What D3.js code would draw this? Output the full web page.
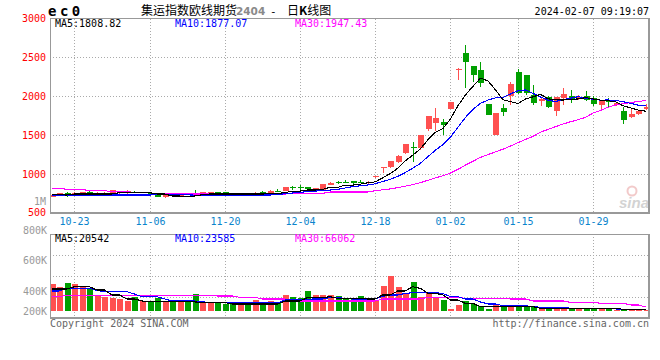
<!DOCTYPE html>
<html><head><meta charset="utf-8">
<script src="https://cdn.jsdelivr.net/npm/d3@7"></script>
<style>
html,body{margin:0;padding:0;background:#fff;}
svg{display:block;}
</style></head><body>
<svg id="c" width="660" height="360" font-family="DejaVu Sans Mono, monospace" font-size="10"></svg>
<script>
const dates=["10-18","10-19","10-20","10-23","10-24","10-25","10-26","10-27","10-30","10-31","11-01","11-02","11-03","11-06","11-07","11-08","11-09","11-10","11-13","11-14","11-15","11-16","11-17","11-20","11-21","11-22","11-23","11-24","11-27","11-28","11-29","11-30","12-01","12-04","12-05","12-06","12-07","12-08","12-11","12-12","12-13","12-14","12-15","12-18","12-19","12-20","12-21","12-22","12-25","12-26","12-27","12-28","12-29","01-02","01-03","01-04","01-05","01-08","01-09","01-10","01-11","01-12","01-15","01-16","01-17","01-18","01-19","01-22","01-23","01-24","01-25","01-26","01-29","01-30","01-31","02-01","02-02","02-05","02-06","02-07"];
const open=[710,731,752,731,744,770,735,740,761,752,752,774,765,752,744,701,731,727,718,748,752,748,770,770,748,720,731,731,774,752,787,787,830,838,830,812,787,859,895,902,905,902,885,962,1082,1095,1159,1274,1352,1330,1574,1651,1672,1835,2336,2555,2388,2336,1900,1505,1850,2006,2315,2272,2015,1942,1985,1814,1977,2006,1964,2000,1981,1887,1951,1883,1810,1729,1771,1835];
const high=[735,760,774,765,774,787,765,768,800,785,791,787,772,757,748,735,744,735,722,795,768,774,774,774,752,748,735,765,778,791,804,834,847,859,834,821,876,894,915,924,908,924,905,975,1097,1170,1245,1390,1407,1505,1750,1844,1707,1929,2360,2657,2395,2439,1905,1785,1900,2186,2349,2280,2144,1990,2006,1995,2109,2079,2020,2066,2000,1955,1975,1930,1857,1844,1815,1895];
const low=[705,728,701,728,740,740,731,735,757,748,748,761,761,744,706,698,701,722,708,740,748,744,740,744,740,716,718,727,740,748,774,783,795,787,800,808,783,855,872,881,868,881,878,945,1018,1073,1140,1253,1159,1309,1553,1557,1501,1835,2208,2110,2186,2122,1755,1500,1746,1887,2028,2015,1887,1878,1852,1750,1887,1916,1950,1937,1878,1835,1848,1870,1643,1716,1765,1830];
const close=[731,757,740,761,770,744,761,761,795,778,787,770,768,748,710,731,727,731,712,744,765,770,744,748,744,744,722,761,744,787,782,830,821,830,804,817,872,890,890,898,885,898,900,975,1095,1167,1232,1386,1330,1501,1745,1715,1634,1929,2357,2440,2275,2165,1760,1780,1800,2156,2045,2045,1916,1964,1865,1985,2028,1960,1993,1950,1900,1951,1921,1917,1694,1767,1810,1865];
const ma5=[740,735,731,744,744,744,744,744,744,761,761,761,761,761,744,744,718,718,710,718,735,744,744,744,744,744,744,744,744,748,752,761,782,782,795,795,804,829,829,859,859,870,889,900,952,1007,1074,1171,1242,1323,1439,1535,1585,1705,1876,2015,2127,2233,2199,2084,1956,1932,1908,1965,1992,2025,1967,1955,1952,1960,1966,1983,1966,1951,1943,1928,1877,1850,1822,1809];
const ma10=[722,722,722,726,731,731,731,731,731,731,731,731,731,731,735,735,735,735,733,730,727,727,727,727,727,731,731,731,731,731,735,748,757,765,774,782,787,795,804,821,838,850,860,875,905,933,970,1020,1075,1137,1223,1305,1378,1473,1600,1727,1831,1909,1952,1980,1986,2030,2071,2082,2038,1991,1950,1932,1958,1976,1996,1975,1961,1951,1952,1947,1930,1908,1886,1877];
const ma30=[817,817,804,804,804,787,787,787,774,774,774,761,761,761,744,744,744,744,744,744,744,744,744,744,744,744,744,744,744,744,744,744,752,752,752,752,752,770,770,770,770,770,770,787,798,810,826,845,864,890,920,950,978,1012,1060,1115,1165,1215,1250,1285,1320,1360,1405,1445,1485,1540,1575,1610,1645,1673,1700,1730,1785,1820,1860,1890,1905,1920,1932,1947];
const volume=[445000,401000,467000,445000,412000,374000,264000,236000,220000,198000,165000,236000,165000,165000,220000,165000,154000,143000,143000,280000,143000,143000,143000,115000,143000,115000,115000,181000,115000,165000,154000,264000,236000,220000,330000,264000,264000,264000,248000,198000,210000,248000,220000,165000,412000,583000,396000,275000,478000,236000,302000,236000,181000,33000,99000,165000,115000,82000,38000,115000,82000,99000,99000,82000,71000,60000,60000,55000,50000,45000,35000,30000,30000,28000,25000,20000,35000,20000,15000,12000];
const vma5=[363000,363000,363000,401000,401000,401000,346000,346000,264000,264000,198000,198000,165000,150000,150000,150000,150000,150000,150000,150000,140000,140000,140000,140000,115000,115000,115000,115000,115000,115000,115000,165000,165000,165000,220000,220000,220000,236000,209000,209000,209000,209000,198000,198000,264000,264000,330000,330000,401000,374000,292000,292000,264000,181000,181000,126000,126000,71000,71000,71000,71000,71000,71000,71000,71000,44000,44000,44000,44000,44000,44000,44000,44000,44000,44000,44000,28000,28000,24000,20542];
const vma10=[330000,330000,374000,374000,374000,374000,340000,319000,319000,319000,319000,280000,236000,236000,236000,200000,165000,165000,165000,165000,150000,143000,143000,143000,135000,132000,132000,132000,132000,132000,132000,181000,185000,190000,195000,198000,198000,220000,220000,210000,198000,198000,198000,198000,240000,264000,264000,290000,302000,302000,302000,302000,290000,236000,236000,198000,198000,150000,115000,115000,88000,88000,88000,88000,70000,62000,55000,52000,50000,48000,46000,44000,42000,40000,37000,34000,31000,28000,26000,23585];
const vma30=[236000,236000,259000,259000,259000,259000,259000,259000,259000,259000,259000,259000,259000,259000,259000,259000,259000,259000,259000,259000,259000,259000,248000,248000,248000,226000,226000,226000,198000,198000,198000,198000,165000,165000,165000,165000,165000,165000,165000,165000,165000,165000,165000,165000,198000,198000,198000,198000,198000,198000,226000,226000,226000,226000,226000,209000,209000,209000,209000,209000,209000,198000,198000,198000,165000,165000,165000,165000,165000,143000,143000,143000,143000,126000,126000,126000,126000,99000,99000,66062];
const tickDates=["10-23","11-06","11-20","12-04","12-18","01-02","01-15","01-29"];
const priceTicks=[3000,2500,2000,1500,1000,500];
const volTicks=[800000,600000,400000,200000];
const priceLegend=[{name:"MA5",value:"1808.82"},{name:"MA10",value:"1877.07"},{name:"MA30",value:"1947.43"}];
const volLegend=[{name:"MA5",value:"20542"},{name:"MA10",value:"23585"},{name:"MA30",value:"66062"}];
const titleCode="ec0", titleName="集运指数欧线期货", titleContract="2404", titleKind="日K线图";
const stamp="2024-02-07 09:19:07";

const RED="#ff5050", GREEN="#00a000", BLUE="#0000ff", MAG="#ff00ff", LABELRED="#ff0000", GRID="#aaaaaa", FRAME="#999999";
const L=50, R=649, PT=18.5, PB=213, VT=234, VB=317.5, VBASE=311;

const svg=d3.select("#c");
const x=d3.scaleBand().domain(dates).range([48,649.6]).padding(0);
const cx=d=>x(d)+x.bandwidth()/2;
const yP=d3.scaleLinear().domain([500,3000]).range([PB,PT]);
const yV=d3.scaleLinear().domain([0,800000]).range([VBASE,VBASE-48.5]);
const yVlab=d3.scaleLinear().domain([200000,800000]).range([321.5,230]);
const data=dates.map((d,i)=>({d,o:open[i],h:high[i],l:low[i],c:close[i],v:volume[i]}));

const defs=svg.append("defs");
defs.append("clipPath").attr("id","cp").append("rect").attr("x",L+1).attr("y",PT).attr("width",R-L-1).attr("height",PB-PT);
defs.append("clipPath").attr("id","cv").append("rect").attr("x",L+1).attr("y",VT).attr("width",R-L-1).attr("height",VB-VT);

// grids
const g=svg.append("g").attr("shape-rendering","crispEdges");
[2500,2000,1500,1000].forEach(v=>{
  g.append("line").attr("x1",L).attr("x2",R).attr("y1",Math.round(yP(v))+0.5).attr("y2",Math.round(yP(v))+0.5)
   .attr("stroke",GRID).attr("stroke-dasharray","1,2");
});
[0.25,0.5,0.75].forEach(f=>{
  const yy=Math.round(VT+(VB-VT)*f)+0.5;
  g.append("line").attr("x1",L).attr("x2",R).attr("y1",yy).attr("y2",yy).attr("stroke",GRID).attr("stroke-dasharray","1,2");
});
tickDates.forEach(t=>{
  const xx=Math.round(cx(t))+0.5;
  g.append("line").attr("x1",xx).attr("x2",xx).attr("y1",PT).attr("y2",PB).attr("stroke",GRID).attr("stroke-dasharray","1,2");
  g.append("line").attr("x1",xx).attr("x2",xx).attr("y1",VT).attr("y2",VB).attr("stroke",GRID).attr("stroke-dasharray","1,2");
});

// watermark
const wm=svg.append("g").attr("opacity",0.55);
wm.append("circle").attr("cx",632).attr("cy",191).attr("r",4.5).attr("fill","none").attr("stroke","#e8a0a0").attr("stroke-width",2);
wm.append("text").attr("x",619).attr("y",208).attr("font-family","Liberation Sans, Arial, sans-serif").attr("font-size",15).attr("font-weight","bold").attr("font-style","italic").attr("fill","#b0b0b0").text("sina");

// candles
const cg=svg.append("g").attr("clip-path","url(#cp)").attr("shape-rendering","crispEdges");
data.forEach(d=>{
  const xc=Math.round(cx(d.d));
  const col=d.c>=d.o?RED:GREEN;
  cg.append("line").attr("x1",xc+0.5).attr("x2",xc+0.5).attr("y1",yP(d.h)).attr("y2",yP(d.l)).attr("stroke",col);
  const top=yP(Math.max(d.o,d.c)), bot=yP(Math.min(d.o,d.c));
  cg.append("rect").attr("x",xc-2).attr("width",6).attr("y",Math.round(top)).attr("height",Math.max(1,Math.round(bot)-Math.round(top))).attr("fill",col);
});
// MA lines price
const lineP=arr=>d3.line().x((v,i)=>cx(dates[i])).y(v=>yP(v))(arr);
const mg=svg.append("g").attr("clip-path","url(#cp)");
[[ma30,MAG],[ma10,BLUE],[ma5,"#000"]].forEach(([a,c])=>mg.append("path").attr("d",lineP(a)).attr("fill","none").attr("stroke",c).attr("stroke-width",1.1).attr("shape-rendering","crispEdges"));

// volume bars
const vg=svg.append("g").attr("clip-path","url(#cv)").attr("shape-rendering","crispEdges");
data.forEach(d=>{
  const xc=Math.round(cx(d.d));
  const col=d.c>=d.o?RED:GREEN;
  const yt=Math.round(yV(d.v));
  vg.append("rect").attr("x",xc-2).attr("width",6).attr("y",yt).attr("height",Math.max(1,VBASE-yt)).attr("fill",col);
});
const lineV=arr=>d3.line().x((v,i)=>cx(dates[i])).y(v=>yV(v))(arr);
const mv=svg.append("g").attr("clip-path","url(#cv)");
[[vma30,MAG],[vma10,BLUE],[vma5,"#000"]].forEach(([a,c])=>mv.append("path").attr("d",lineV(a)).attr("fill","none").attr("stroke",c).attr("stroke-width",1.1).attr("shape-rendering","crispEdges"));

// frames
const fr=svg.append("g").attr("shape-rendering","crispEdges");
function frame(y1,y2){
  fr.append("line").attr("x1",L).attr("x2",R+1).attr("y1",y1).attr("y2",y1).attr("stroke",FRAME);
  fr.append("line").attr("x1",L).attr("x2",R+1).attr("y1",y2).attr("y2",y2).attr("stroke",FRAME).attr("stroke-width",2);
  fr.append("line").attr("x1",L+0.5).attr("x2",L+0.5).attr("y1",y1).attr("y2",y2).attr("stroke",FRAME).attr("stroke-width",1.5);
  fr.append("line").attr("x1",R).attr("x2",R).attr("y1",y1).attr("y2",y2).attr("stroke",FRAME).attr("stroke-width",2);
}
frame(PT,PB);
frame(VT,VB);

// price axis labels
priceTicks.forEach(v=>{
  const yy=Math.min(Math.max(yP(v),15.5),212);
  svg.append("text").attr("x",46).attr("y",yy+3.5).attr("text-anchor","end").attr("fill",LABELRED).text(v);
});
svg.append("text").attr("x",46).attr("y",204.5).attr("text-anchor","end").attr("fill","#999").text("1M");
// x labels
tickDates.forEach(t=>{
  svg.append("text").attr("x",Math.round(cx(t))+0.5).attr("y",225).attr("text-anchor","middle").attr("fill","#0a84cc").text(t);
});
// volume labels
volTicks.forEach(v=>{
  const yy=Math.min(yVlab(v),311);
  svg.append("text").attr("x",47).attr("y",yy+3.5).attr("text-anchor","end").attr("fill","#999").text((v/1000)+"K");
});
// legends
const legX=[55,175,295], legC=["#000",BLUE,MAG];
priceLegend.forEach((m,i)=>svg.append("text").attr("x",legX[i]).attr("y",27).attr("fill",legC[i]).text(m.name+":"+m.value));
volLegend.forEach((m,i)=>svg.append("text").attr("x",legX[i]).attr("y",242).attr("fill",legC[i]).text(m.name+":"+m.value));

// title
svg.append("text").attr("x",48).attr("y",16).attr("font-size",14).attr("font-weight","bold").attr("letter-spacing","3.5px").attr("fill","#000").text(titleCode);
svg.append("text").attr("x",141).attr("y",15).attr("font-family","Noto Sans CJK SC, sans-serif").attr("font-size",12).attr("fill","#000").text(titleName);
svg.append("text").attr("x",236).attr("y",15).attr("font-family","DejaVu Sans, sans-serif").attr("font-size",10.5).attr("font-weight","bold").attr("fill","#8a8a8a").text(titleContract);
svg.append("text").attr("x",270).attr("y",15).attr("font-size",11).attr("fill","#000").text("-");
const tk=svg.append("text").attr("x",287).attr("y",15).attr("font-family","Noto Sans CJK SC, sans-serif").attr("font-size",12).attr("fill","#000");
tk.append("tspan").text(titleKind[0]);
tk.append("tspan").attr("font-weight","bold").text(titleKind[1]);
tk.append("tspan").text(titleKind.slice(2));
svg.append("text").attr("x",649).attr("y",15).attr("text-anchor","end").attr("fill","#000").text(stamp);
// footer
svg.append("text").attr("x",50).attr("y",327).attr("fill","#666").text("Copyright 2024 SINA.COM");
svg.append("text").attr("x",649).attr("y",327).attr("text-anchor","end").attr("fill","#666").text("http://finance.sina.com.cn");
</script>
</body></html>
